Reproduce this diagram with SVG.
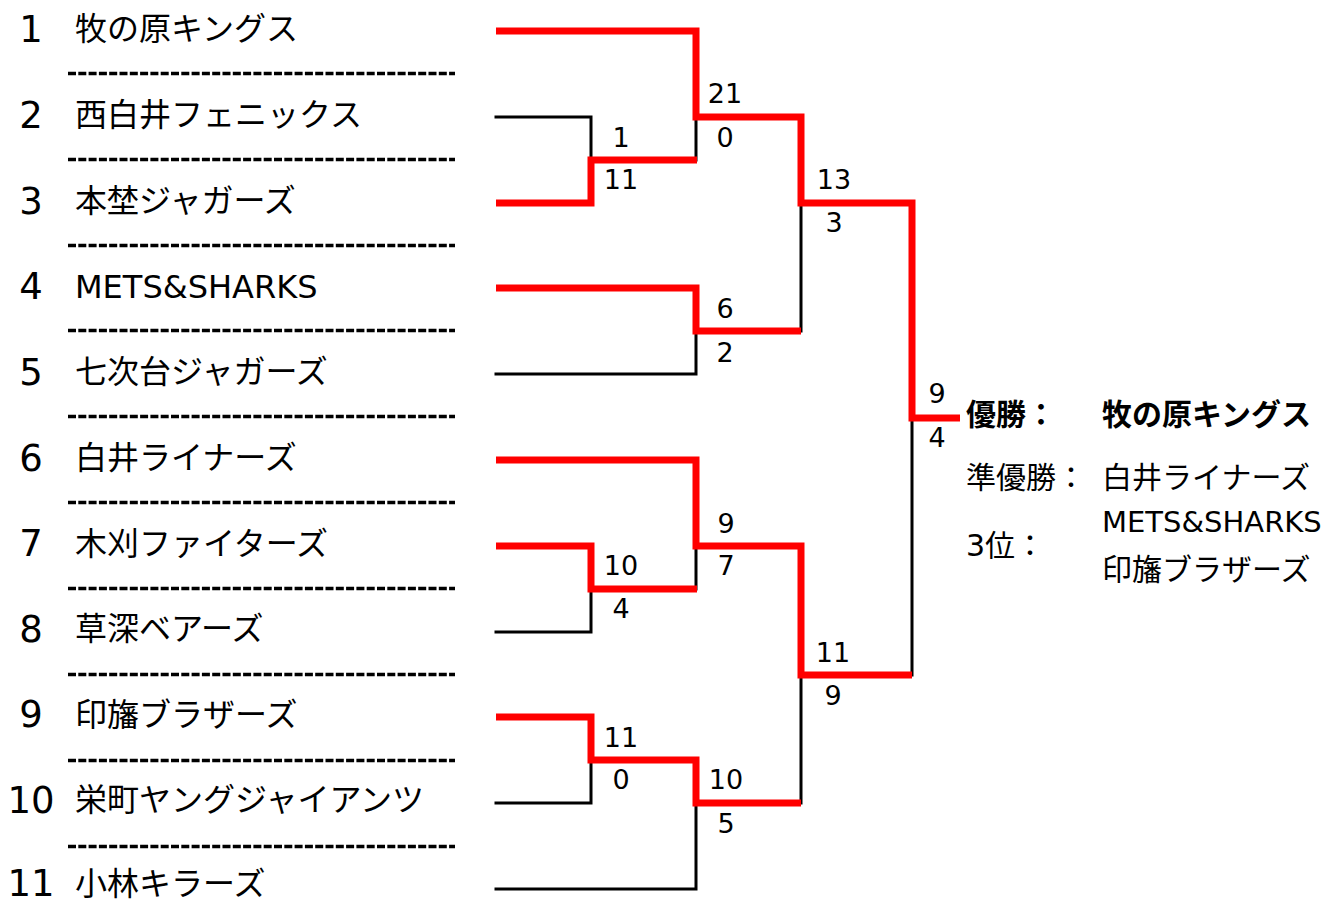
<svg xmlns="http://www.w3.org/2000/svg" width="1329" height="904" viewBox="0 0 1329 904">
<style>
.num{font-family:"DejaVu Sans","Noto Sans CJK JP",sans-serif;font-size:37px;fill:#000;text-anchor:middle}
.name{font-family:"DejaVu Sans","Noto Sans CJK JP",sans-serif;font-size:32px;fill:#000}
.score{font-family:"DejaVu Sans",sans-serif;font-size:27px;fill:#000;text-anchor:middle}
.res{font-family:"DejaVu Sans","Noto Sans CJK JP",sans-serif;font-size:30px;fill:#000}
.bold{font-weight:bold}
.dash{stroke:#000;stroke-width:3.5;stroke-dasharray:8 2.3;fill:none}
.lose{stroke:#000;stroke-width:3;fill:none;stroke-linecap:square}
.win{stroke:#f00;stroke-width:7;fill:none;stroke-linejoin:miter;stroke-linecap:butt}
</style>
<rect width="1329" height="904" fill="#fff"/>
<g id="teams">
<g id="team1"><text class="num" x="31" y="42">1</text><text class="name" x="75" y="40">牧の原キングス</text></g>
<g id="team2"><text class="num" x="31" y="128">2</text><text class="name" x="75" y="126">西白井フェニックス</text></g>
<g id="team3"><text class="num" x="31" y="214">3</text><text class="name" x="75" y="212">本埜ジャガーズ</text></g>
<g id="team4"><text class="num" x="31" y="299">4</text><text class="name" x="75" y="298">METS&amp;SHARKS</text></g>
<g id="team5"><text class="num" x="31" y="385">5</text><text class="name" x="75" y="383">七次台ジャガーズ</text></g>
<g id="team6"><text class="num" x="31" y="471">6</text><text class="name" x="75" y="469">白井ライナーズ</text></g>
<g id="team7"><text class="num" x="31" y="556">7</text><text class="name" x="75" y="555">木刈ファイターズ</text></g>
<g id="team8"><text class="num" x="31" y="642">8</text><text class="name" x="75" y="640">草深ベアーズ</text></g>
<g id="team9"><text class="num" x="31" y="727">9</text><text class="name" x="75" y="726">印旛ブラザーズ</text></g>
<g id="team10"><text class="num" x="31" y="813">10</text><text class="name" x="75" y="811">栄町ヤングジャイアンツ</text></g>
<g id="team11"><text class="num" x="31" y="896">11</text><text class="name" x="75" y="895">小林キラーズ</text></g>
</g>
<g id="separators">
<line class="dash" x1="68" y1="73.5" x2="455" y2="73.5"/>
<line class="dash" x1="68" y1="159.5" x2="455" y2="159.5"/>
<line class="dash" x1="68" y1="245.5" x2="455" y2="245.5"/>
<line class="dash" x1="68" y1="330.5" x2="455" y2="330.5"/>
<line class="dash" x1="68" y1="416.5" x2="455" y2="416.5"/>
<line class="dash" x1="68" y1="502.5" x2="455" y2="502.5"/>
<line class="dash" x1="68" y1="588.5" x2="455" y2="588.5"/>
<line class="dash" x1="68" y1="674.5" x2="455" y2="674.5"/>
<line class="dash" x1="68" y1="760.5" x2="455" y2="760.5"/>
<line class="dash" x1="68" y1="846.5" x2="455" y2="846.5"/>
</g>
<g id="connectors">
<path class="lose" d="M496,117 H591 V160"/>
<path class="lose" d="M696,160 V117"/>
<path class="lose" d="M496,374 H696 V331"/>
<path class="lose" d="M801,331 V203"/>
<path class="lose" d="M912,418 V675"/>
<path class="lose" d="M496,632 H591 V589"/>
<path class="lose" d="M696,589 V546"/>
<path class="lose" d="M496,803 H591 V760"/>
<path class="lose" d="M496,889 H696 V803"/>
<path class="lose" d="M801,803 V675"/>
<path class="win" d="M496,31 H696 V117 H801 V203 H912 V418 H960"/>
<path class="win" d="M496,203 H591 V160 H697"/>
<path class="win" d="M496,288 H696 V331 H801"/>
<path class="win" d="M496,460 H696 V546 H801 V675 H912"/>
<path class="win" d="M496,546 H591 V589 H697"/>
<path class="win" d="M496,717 H591 V760 H696 V803 H801"/>
</g>
<g id="scores">
<text class="score" x="725" y="103">21</text><text class="score" x="725" y="147">0</text>
<text class="score" x="621" y="147">1</text><text class="score" x="621" y="189">11</text>
<text class="score" x="834" y="189">13</text><text class="score" x="834" y="232">3</text>
<text class="score" x="725" y="318">6</text><text class="score" x="725" y="362">2</text>
<text class="score" x="937" y="403">9</text><text class="score" x="937" y="447">4</text>
<text class="score" x="726" y="533">9</text><text class="score" x="726" y="575">7</text>
<text class="score" x="621" y="575">10</text><text class="score" x="621" y="618">4</text>
<text class="score" x="833" y="662">11</text><text class="score" x="833" y="705">9</text>
<text class="score" x="621" y="747">11</text><text class="score" x="621" y="789">0</text>
<text class="score" x="726" y="789">10</text><text class="score" x="726" y="833">5</text>
</g>
<g id="results">
<text class="res bold" x="966" y="425">優勝：</text>
<text class="res bold" x="1102" y="425">牧の原キングス</text>
<text class="res" x="966" y="488">準優勝：</text>
<text class="res" x="1102" y="488">白井ライナーズ</text>
<text class="res" x="1102" y="532" style="font-size:29px">METS&amp;SHARKS</text>
<text class="res" x="966" y="556">3位：</text>
<text class="res" x="1102" y="580">印旛ブラザーズ</text>
</g>
</svg>
